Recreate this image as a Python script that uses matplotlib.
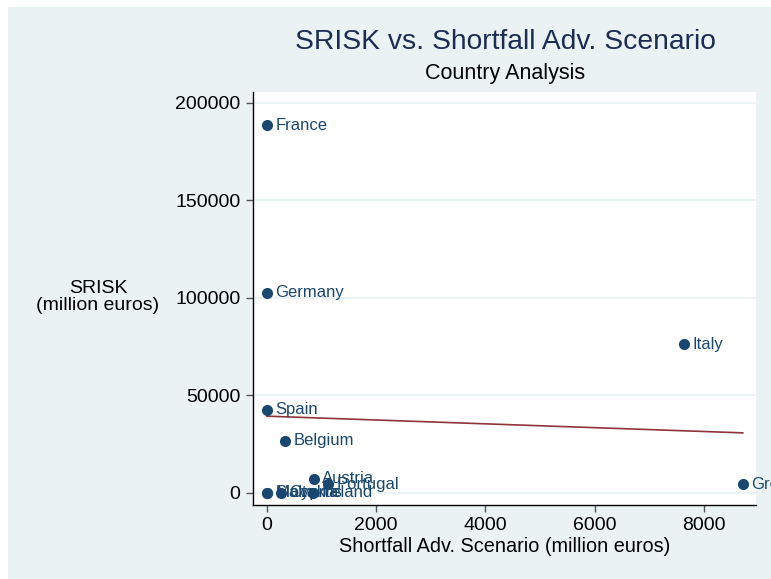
import matplotlib

matplotlib.use("Agg")

import numpy as np
import matplotlib.pyplot as plt
from matplotlib.patches import Rectangle

plt.rcParams["font.family"] = ["Liberation Sans", "DejaVu Sans"]

# data (million euros)
countries = ["France", "Germany", "Italy", "Spain", "Belgium", "Austria",
             "Portugal", "Greece", "Malta", "Slovakia", "Cyprus", "Ireland"]
shortfall = [0, 0, 7630, 0, 330, 860, 1120, 8710, 0, 0, 250, 840]
srisk = [188700, 102600, 76400, 42600, 26700, 7200, 4600, 4600, 0, 0, 0, 0]

navy = "#1a476f"
bg = "#eaf2f3"

fig = plt.figure(figsize=(7.71, 5.79), dpi=100)
fig.patch.set_facecolor("white")
# graph region
fig.patches.append(Rectangle((8 / 771, 0), 1, 1 - 7 / 579, transform=fig.transFigure,
                             facecolor=bg, edgecolor="none", zorder=-1))

ax = fig.add_axes([253 / 771, 1 - 505 / 579, 503 / 771, 413 / 579])
ax.set_facecolor("white")

# 散点
ax.scatter(shortfall, srisk, s=64, color=navy, zorder=3, linewidths=0)
for name, x, y in zip(countries, shortfall, srisk):
    ax.annotate(name, (x, y), xytext=(6, 0), textcoords="offset points",
                va="center", ha="left", fontsize=12, color=navy, zorder=4)

# 线性拟合
b, a = np.polyfit(shortfall, srisk, 1)
xs = np.array([min(shortfall), max(shortfall)])
ax.plot(xs, a + b * xs, color="#90353b", lw=1.2, zorder=2)

ax.set_xlim(-256, 8952)
ax.set_ylim(-6154, 205641)
ax.set_xticks([0, 2000, 4000, 6000, 8000])
ax.set_yticks([0, 50000, 100000, 150000, 200000])
ax.tick_params(labelsize=14, length=5, width=1, color="#555555", pad=4)
ax.grid(axis="y", color=bg, lw=1.2, zorder=0)
ax.set_axisbelow(True)
for s in ["top", "right"]:
    ax.spines[s].set_visible(False)
for s in ["left", "bottom"]:
    ax.spines[s].set_linewidth(1.0)

ax.set_xlabel("Shortfall Adv. Scenario (million euros)", fontsize=14.3, labelpad=2)
fig.text(98 / 771, 1 - 297 / 579, "SRISK\n(million euros)", ha="center", va="center",
         fontsize=14, linespacing=1.0)

fig.text(505 / 771, 1 - 42 / 579, "SRISK vs. Shortfall Adv. Scenario", ha="center",
         va="center", fontsize=20.3, color="#1c2d54")
fig.text(505 / 771, 1 - 73 / 579, "Country Analysis", ha="center", va="center",
         fontsize=15.5, color="black")

plt.savefig("out.png", dpi=100)
